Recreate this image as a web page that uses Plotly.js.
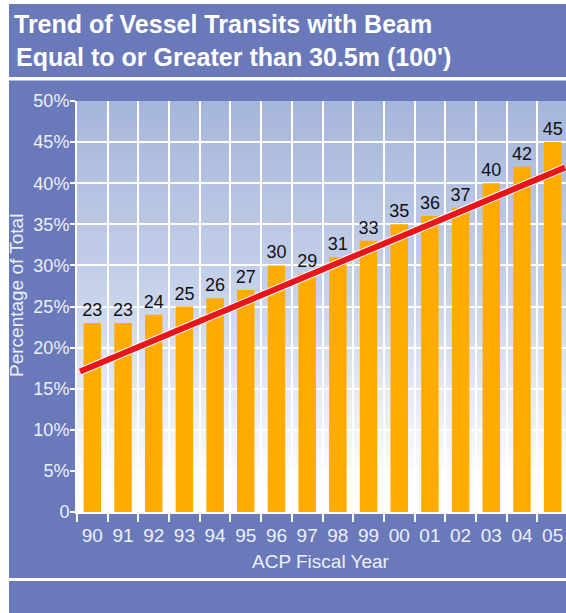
<!DOCTYPE html>
<html>
<head>
<meta charset="utf-8">
<script src="https://cdn.plot.ly/plotly-3.0.1.min.js"></script>
<style>
html,body{margin:0;padding:0;overflow:hidden;background:#fff;}
#chart{width:568px;height:613px;}
</style>
</head>
<body>
<div id="chart"></div>
<script>
// ---- data ----
const years = ['90','91','92','93','94','95','96','97','98','99','00','01','02','03','04','05'];
const percentTotal = [23,23,24,25,26,27,30,29,31,33,35,36,37,40,42,45];
// trend line endpoints (category index position, percent)
const trendX = [-0.4, 15.4];
const trendY = [17.1, 41.9];
const yTickVals = [0,5,10,15,20,25,30,35,40,45,50];
const yTickText = ['0','5%','10%','15%','20%','25%','30%','35%','40%','45%','50%'];
const titleLine1 = 'Trend of Vessel Transits with Beam';
const titleLine2 = "Equal to or Greater than 30.5m (100')";
const xTitle = 'ACP Fiscal Year';
const yTitle = 'Percentage of Total';

// ---- layout geometry (pixels) ----
const W = 568, H = 613;
const mL = 77, mR = 0, mT = 101, mB = 101;
const pw = W - mL - mR, ph = H - mT - mB;
const px = v => (v - mL) / pw;          // pixel x -> paper
const py = v => (H - mB - v) / ph;      // pixel y -> paper

// gradient background image for plot area
const cv = document.createElement('canvas');
cv.width = 4; cv.height = 400;
const ctx = cv.getContext('2d');
const g = ctx.createLinearGradient(0,0,0,400);
g.addColorStop(0, '#a6b6db');
g.addColorStop(0.45, '#c6d1ea');
g.addColorStop(0.9, '#fbfcfe');
g.addColorStop(1, '#ffffff');
ctx.fillStyle = g; ctx.fillRect(0,0,4,400);
const gradURL = cv.toDataURL();

const BLUE = '#6a79b9';
const FONT = 'Liberation Sans, Arial, sans-serif';
const TXT = '#eef0fa';
const TFONT = {family:FONT, size:25, color:'#ffffff', weight:'bold'};

const white = (x0,y0,x1,y1) => ({type:'rect', xref:'paper', yref:'paper', layer:'below',
  x0:px(x0), x1:px(x1), y0:py(y0), y1:py(y1), fillcolor:'#ffffff', line:{width:0}});

const traces = [
  {
    type:'bar', x: years, y: percentTotal,
    marker:{color:'#ffab00', line:{width:0}},
    width: 0.57,
    text: percentTotal.map(String), textposition:'outside',
    textfont:{family:FONT, size:18, color:'#111111'},
    constraintext:'none', cliponaxis:false,
    hoverinfo:'x+y'
  },
  {
    type:'scatter', mode:'lines', x: trendX, y: trendY, xaxis:'x2',
    line:{color:'#ffffff', width:8}, hoverinfo:'skip', cliponaxis:false
  },
  {
    type:'scatter', mode:'lines', x: trendX, y: trendY, xaxis:'x2',
    line:{color:'#e8161b', width:6}, hoverinfo:'skip', cliponaxis:false
  }
];

const layout = {
  width: W, height: H,
  margin:{l:mL, r:mR, t:mT, b:mB, pad:0},
  paper_bgcolor: BLUE,
  plot_bgcolor: 'rgba(0,0,0,0)',
  showlegend:false,
  font:{family:FONT, color:TXT, size:18},
  title:{text:titleLine1, x:14/W, xanchor:'left', xref:'container',
         y:1-(24)/H, yanchor:'middle', yref:'container', font:TFONT},
  annotations:[
    {text:titleLine2, xref:'paper', yref:'paper', x:px(14), y:py(57), xanchor:'left', yanchor:'middle',
     showarrow:false, font:TFONT},
    {text:xTitle, xref:'paper', yref:'paper', x:px(321), y:py(561), xanchor:'center', yanchor:'middle',
     showarrow:false, font:{family:FONT, size:19, color:TXT}},
    {text:yTitle, xref:'paper', yref:'paper', x:px(16), y:py(296), xanchor:'center', yanchor:'middle',
     textangle:-90, showarrow:false, font:{family:FONT, size:19, color:TXT}}
  ],
  xaxis:{
    type:'category', range:[-0.5, 15.5], tickson:'boundaries',
    ticks:'outside', ticklen:8, tickwidth:2, tickcolor:'#ffffff',
    showgrid:true, gridcolor:'#ffffff', gridwidth:2,
    showline:true, linecolor:'#ffffff', linewidth:2,
    tickangle:0,
    tickfont:{family:FONT, size:19, color:TXT}, ticklabelstandoff:5,
    fixedrange:true
  },
  xaxis2:{
    overlaying:'x', type:'linear', range:[-0.5, 15.5], visible:false, fixedrange:true
  },
  yaxis:{
    range:[0,50], tickvals:yTickVals, ticktext:yTickText,
    ticks:'outside', ticklen:5, tickwidth:2, tickcolor:'#ffffff',
    showgrid:true, gridcolor:'#ffffff', gridwidth:2, zeroline:false,
    showline:true, linecolor:'#ffffff', linewidth:2,
    tickfont:{family:FONT, size:18, color:TXT}, ticklabelstandoff:-3,
    fixedrange:true
  },
  images:[{source:gradURL, xref:'paper', yref:'paper', x:0, y:1, sizex:1, sizey:1,
           sizing:'stretch', xanchor:'left', yanchor:'top', layer:'below'}],
  shapes:[
    white(0, 0, W, 4),        // top strip
    white(0, 0, 9, H),        // left strip
    white(9, 77, W, 80.5),    // separator under title
    white(9, 578, W, 581)     // separator at bottom
  ]
};

Plotly.newPlot('chart', traces, layout, {displayModeBar:false, staticPlot:true});
</script>
</body>
</html>
